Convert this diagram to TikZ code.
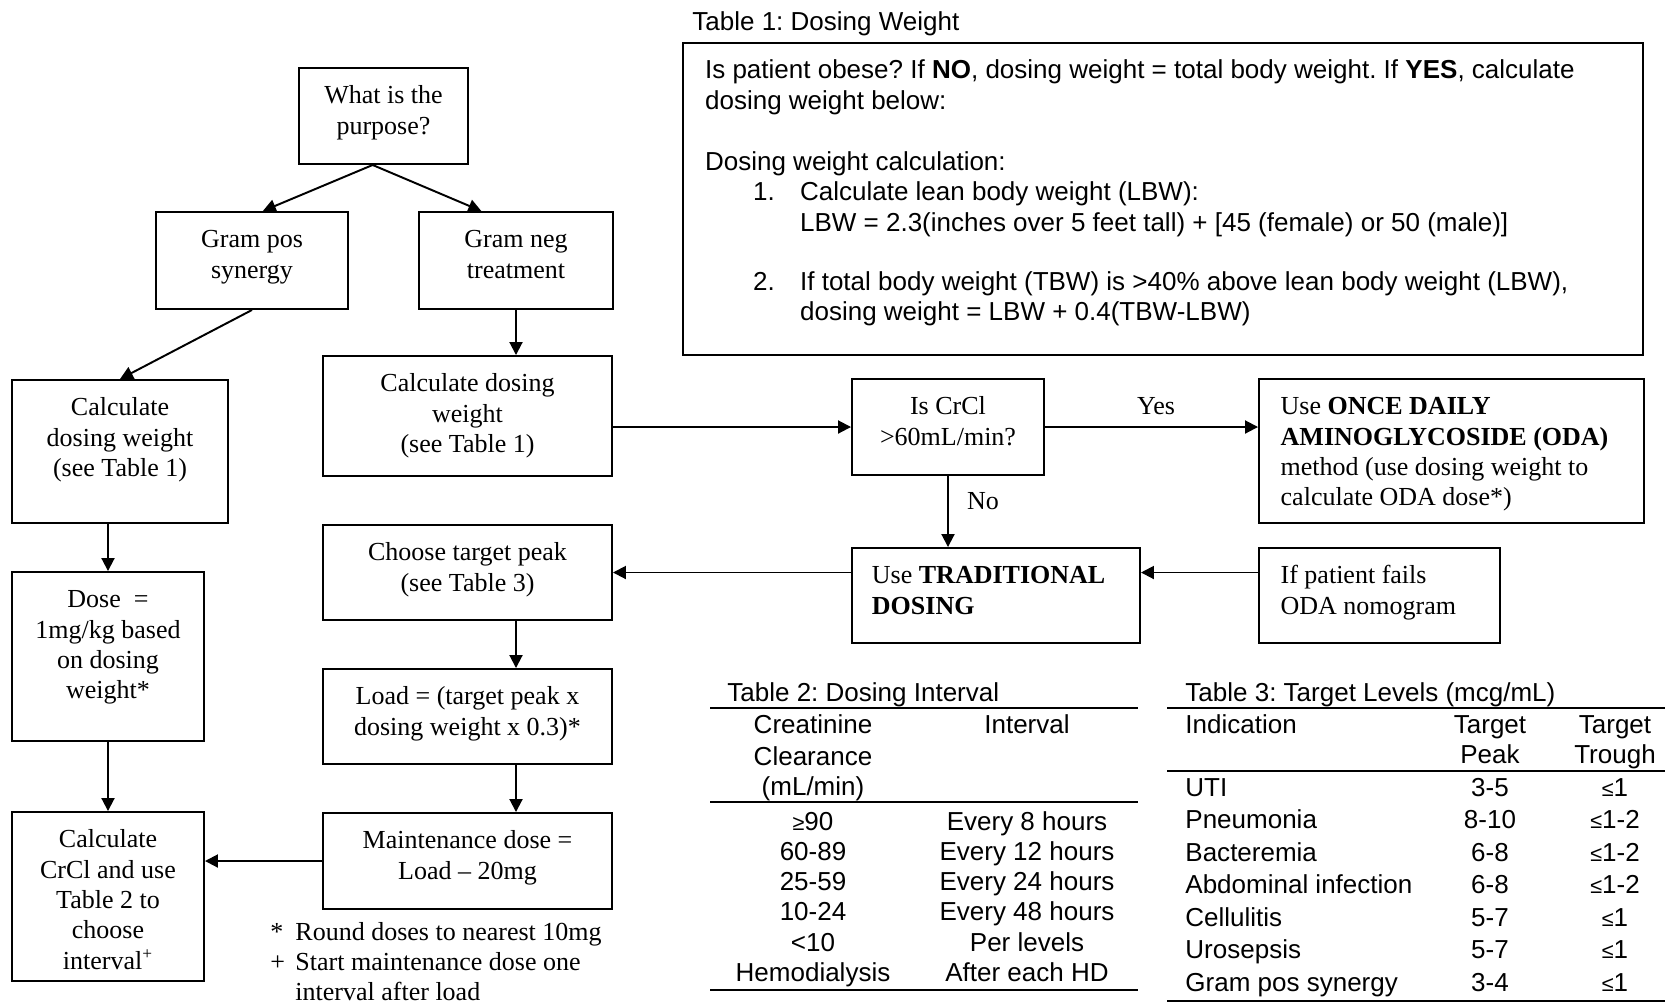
\documentclass[tikz,border=0pt]{standalone}
\usepackage{fontspec}
\setmainfont{Liberation Serif}
\setsansfont{Liberation Sans}
\usetikzlibrary{arrows.meta}
\frenchspacing
\newdimen\pxu \pxu=0.4615pt
\newcommand\fbx[4][\centering]{\parbox[c][#3\pxu][t]{#2\pxu}{#1\rule{0pt}{16.6pt}#4}}
\newcommand\lsym{{\fontsize{10}{10}\selectfont ≤}}
\newcommand\gsym{{\fontsize{10}{10}\selectfont ≥}}
\begin{document}
\begin{tikzpicture}[x=0.4615pt, y=-0.4615pt, font=\fontsize{12}{14}\selectfont, >={Triangle[length=6pt,width=6pt]},
	box/.style={draw, line width=0.9pt, inner sep=0pt},
	arr/.style={->, line width=0.9pt},
	tabrule/.style={line width=0.6pt},
	tabtxt/.style={font=\sffamily\fontsize{12}{14}\selectfont, inner sep=0pt}]
	\useasboundingbox (0,0) rectangle (1665,1005);
	\node[box] (purpose) at (383.5,116) {\fbx{169}{96}{What is the\\purpose?}};
	\node[box] (grampos) at (252,260.5) {\fbx{192}{97}{Gram pos\\synergy}};
	\node[box] (gramneg) at (516,260.5) {\fbx{194}{97}{Gram neg\\treatment}};
	\node[box] (calcL) at (120,451.5) {\fbx{216}{143}{Calculate\\dosing weight\\(see Table 1)}};
	\node[box] (calcM) at (467.5,416) {\fbx{289}{120}{Calculate dosing\\weight\\(see Table 1)}};
	\node[box] (dose) at (108,656.5) {\fbx{192}{169}{Dose\ \ =\\1mg/kg based\\on dosing\\weight*}};
	\node[box] (crclL) at (108,896.5) {\fbx{192}{169}{Calculate\\CrCl and use\\Table 2 to\\choose\\interval\textsuperscript{+}}};
	\node[box] (target) at (467.5,572.5) {\fbx{289}{95}{Choose target peak\\(see Table 3)}};
	\node[box] (load) at (467.5,716.5) {\fbx{289}{95}{Load = (target peak x\\dosing weight x 0.3)*}};
	\node[box] (maint) at (467.5,861) {\fbx{289}{96}{Maintenance dose =\\Load – 20mg}};
	\node[box] (crcl) at (948,427) {\fbx{192}{96}{Is CrCl\\>60mL/min?}};
	\node[box] (oda) at (1451.5,451) {\fbx[\raggedright\leftskip=10pt\relax]{385}{144}{Use \textbf{ONCE DAILY}\\\textbf{AMINOGLYCOSIDE (ODA)}\\method (use dosing weight to\\calculate ODA dose*)}};
	\node[box] (trad) at (996,595.5) {\fbx[\raggedright\leftskip=9.2pt\relax]{288}{95}{Use \textbf{TRADITIONAL}\\\textbf{DOSING}}};
	\node[box] (fails) at (1379.5,595.5) {\fbx[\raggedright\leftskip=10pt\relax]{241}{95}{If patient fails\\ODA nomogram}};
	\node[tabtxt, anchor=base west] (cap1) at (692,30) {Table 1: Dosing Weight};
	\node[box, line width=1.1pt, font=\sffamily\fontsize{12}{14}\selectfont] (tab1) at (1163,199) {\fbx[\raggedright\leftskip=10.2pt\relax]{960}{312}{Is patient obese? If \textbf{NO}, dosing weight = total body weight. If \textbf{YES}, calculate\\
		dosing weight below:\\[31\pxu]
		Dosing weight calculation:\\
		\hspace*{48\pxu}\makebox[47\pxu][l]{1.}Calculate lean body weight (LBW):\\
		\hspace*{95\pxu}LBW = 2.3(inches over 5 feet tall) + [45 (female) or 50 (male)]\\[29\pxu]
		\hspace*{48\pxu}\makebox[47\pxu][l]{2.}If total body weight (TBW) is >40\% above lean body weight (LBW),\\
		\hspace*{95\pxu}dosing weight = LBW + 0.4(TBW-LBW)}};
	\draw[arr] ([xshift=-5pt]purpose.south) -- ([xshift=5pt]grampos.north);
	\draw[arr] ([xshift=-5pt]purpose.south) -- ([xshift=-16pt]gramneg.north);
	\draw[arr] (grampos.south) -- (calcL.north);
	\draw[arr] (gramneg.south) -- (gramneg.south |- calcM.north);
	\draw[arr] (dose.north |- calcL.south) -- (dose.north);
	\draw[arr] (dose.south) -- (crclL.north);
	\draw[arr] (crcl.west -| calcM.east) -- (crcl.west);
	\draw[arr] (crcl.east) -- (crcl.east -| oda.west);
	\node[anchor=base, inner sep=0pt] (yes) at (1156,414) {Yes};
	\draw[arr] (crcl.south) -- (crcl.south |- trad.north);
	\node[anchor=base, inner sep=0pt] (no) at (983,509) {No};
	\draw[arr] (fails.west |- target.east) -- (trad.east |- target.east);
	\draw[arr] (trad.west |- target.east) -- (target.east);
	\draw[arr] (target.south -| gramneg.south) -- (load.north -| gramneg.south);
	\draw[arr] (load.south -| gramneg.south) -- (maint.north -| gramneg.south);
	\draw[arr] (maint.west) -- (maint.west -| crclL.east);
	\node[anchor=base west, inner sep=0pt] (note1) at (270,940) {\makebox[25\pxu][l]{*}Round doses to nearest 10mg};
	\node[anchor=base west, inner sep=0pt] (note2) at (270,970) {\makebox[25\pxu][l]{+}Start maintenance dose one};
	\node[anchor=base west, inner sep=0pt] (note3) at (295,1000) {interval after load};
	\node[tabtxt, anchor=base west] (cap2) at (727,701) {Table 2: Dosing Interval};
	\draw[tabrule] (710,708) -- (1138,708) (710,802) -- (1138,802) (710,990) -- (1138,990);
	\node[tabtxt, anchor=base] (h2a) at (813,733) {Creatinine};
	\node[tabtxt, anchor=base] (h2b) at (813,765) {Clearance};
	\node[tabtxt, anchor=base] (h2c) at (813,795) {(mL/min)};
	\node[tabtxt, anchor=base] (h2d) at (1027,733) {Interval};
	\foreach \c/\v [count=\i] in {\gsym90/Every 8 hours, 60-89/Every 12 hours, 25-59/Every 24 hours, 10-24/Every 48 hours, <10/Per levels, Hemodialysis/After each HD}{
		\node[tabtxt, anchor=base] (cr\i) at (813,800+30.2*\i) {\c};
		\node[tabtxt, anchor=base] (iv\i) at (1027,800+30.2*\i) {\v};
	}
	\node[tabtxt, anchor=base west] (cap3) at (1185,701) {Table 3: Target Levels (mcg/mL)};
	\draw[tabrule] (1167,708) -- (1665,708) (1167,771) -- (1665,771) (1167,1001) -- (1665,1001);
	\node[tabtxt, anchor=base west] (h3a) at (1185,733) {Indication};
	\node[tabtxt, anchor=base] (h3b) at (1490,733) {Target};
	\node[tabtxt, anchor=base] (h3c) at (1615,733) {Target};
	\node[tabtxt, anchor=base] (h3d) at (1490,763) {Peak};
	\node[tabtxt, anchor=base] (h3e) at (1615,763) {Trough};
	\foreach \a/\b/\c [count=\i] in {UTI/3-5/\lsym1, Pneumonia/8-10/\lsym1-2, Bacteremia/6-8/\lsym1-2, Abdominal infection/6-8/\lsym1-2, Cellulitis/5-7/\lsym1, Urosepsis/5-7/\lsym1, Gram pos synergy/3-4/\lsym1}{
		\node[tabtxt, anchor=base west] (ind\i) at (1185,763.5+32.5*\i) {\a};
		\node[tabtxt, anchor=base] (pk\i) at (1490,763.5+32.5*\i) {\b};
		\node[tabtxt, anchor=base] (tr\i) at (1615,763.5+32.5*\i) {\c};
	}
\end{tikzpicture}
\end{document}
